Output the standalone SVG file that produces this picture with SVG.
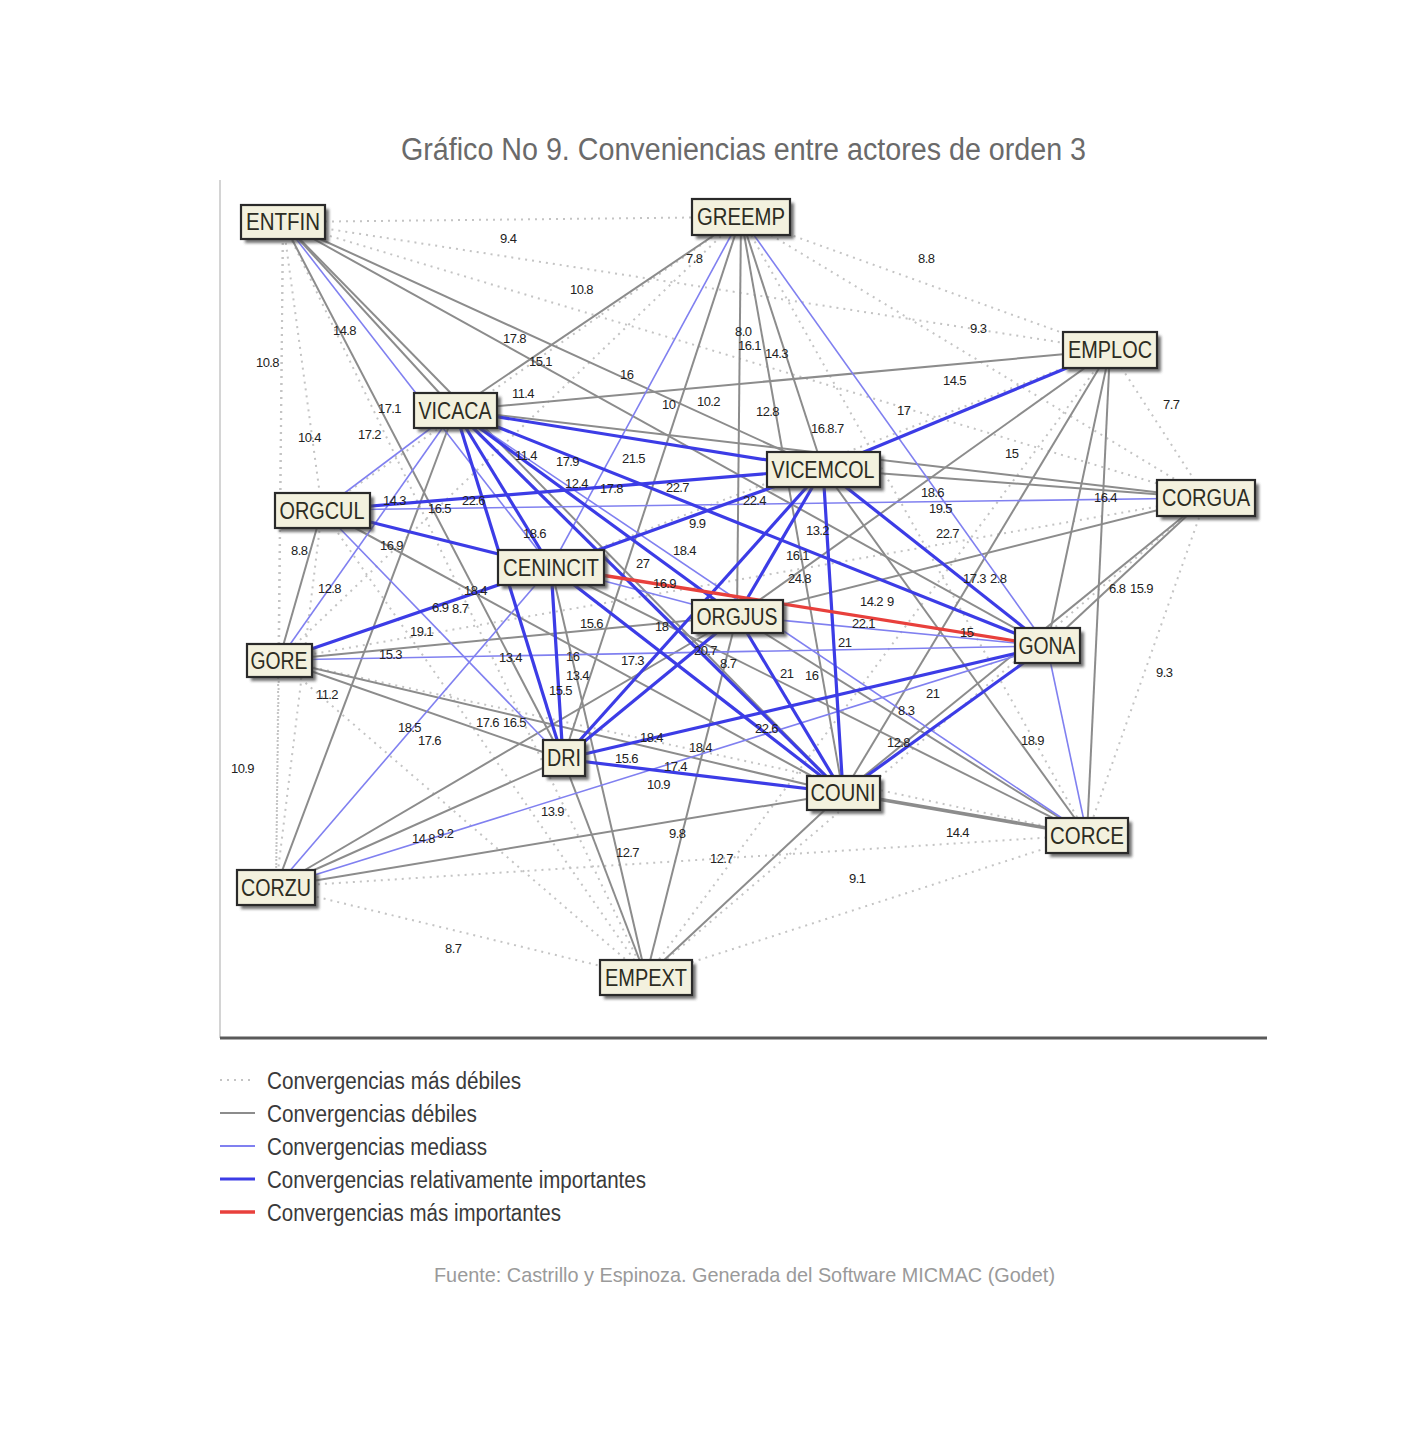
<svg xmlns="http://www.w3.org/2000/svg" width="1425" height="1442" viewBox="0 0 1425 1442">
<defs>
<filter id="sh" x="-20%" y="-20%" width="150%" height="160%"><feGaussianBlur stdDeviation="1.5"/></filter>
<style>
.d{stroke:#c4c4c4;stroke-width:2;stroke-dasharray:2 5;fill:none}
.g{stroke:#8c8c8c;stroke-width:2;fill:none}
.m{stroke:#8080f0;stroke-width:1.6;fill:none}
.b{stroke:#3c3ce6;stroke-width:3.2;fill:none}
.r{stroke:#e8403c;stroke-width:3.4;fill:none}
.lb{font-family:"Liberation Sans",Arial,sans-serif;font-size:13px;fill:#222;letter-spacing:-0.6px}
.nb{fill:#f3f1de;stroke:#2a2a2a;stroke-width:2.2}
.ns{fill:#444;opacity:0.75}
.nt{font-family:"Liberation Sans",Arial,sans-serif;font-size:23px;fill:#2c2c22;text-anchor:middle}
.lg{font-family:"Liberation Sans",Arial,sans-serif;font-size:23px;fill:#3a3a3a}
</style>
</defs>
<rect width="1425" height="1442" fill="#ffffff"/>
<text x="401" y="160" font-family="Liberation Sans, Arial, sans-serif" font-size="31" fill="#6a6a6a" textLength="685" lengthAdjust="spacingAndGlyphs">Gráfico No 9. Conveniencias entre actores de orden 3</text>
<line x1="220" y1="180" x2="220" y2="1038" stroke="#d4d4d4" stroke-width="2"/>
<line x1="220" y1="1038" x2="1267" y2="1038" stroke="#5a5a5a" stroke-width="3"/>
<g id="connectors">
<g id="weakest">
<line class="d" x1="283" y1="222" x2="741" y2="217"/>
<line class="d" x1="283" y1="222" x2="1110" y2="350"/>
<line class="d" x1="283" y1="222" x2="1206" y2="498"/>
<line class="d" x1="283" y1="222" x2="322" y2="510"/>
<line class="d" x1="283" y1="222" x2="279" y2="660"/>
<line class="d" x1="283" y1="222" x2="276" y2="887"/>
<line class="d" x1="283" y1="222" x2="646" y2="977"/>
<line class="d" x1="741" y1="217" x2="1110" y2="350"/>
<line class="d" x1="741" y1="217" x2="1206" y2="498"/>
<line class="d" x1="741" y1="217" x2="322" y2="510"/>
<line class="d" x1="741" y1="217" x2="279" y2="660"/>
<line class="d" x1="741" y1="217" x2="1087" y2="835"/>
<line class="d" x1="1110" y1="350" x2="1206" y2="498"/>
<line class="d" x1="1110" y1="350" x2="551" y2="567"/>
<line class="d" x1="1110" y1="350" x2="646" y2="977"/>
<line class="d" x1="1206" y1="498" x2="1087" y2="835"/>
<line class="d" x1="1206" y1="498" x2="279" y2="660"/>
<line class="d" x1="1206" y1="498" x2="646" y2="977"/>
<line class="d" x1="1087" y1="835" x2="646" y2="977"/>
<line class="d" x1="276" y1="887" x2="646" y2="977"/>
<line class="d" x1="276" y1="887" x2="1087" y2="835"/>
<line class="d" x1="279" y1="660" x2="276" y2="887"/>
<line class="d" x1="322" y1="510" x2="276" y2="887"/>
<line class="d" x1="279" y1="660" x2="646" y2="977"/>
<line class="d" x1="322" y1="510" x2="646" y2="977"/>
<line class="d" x1="279" y1="660" x2="1087" y2="835"/>
</g>
<g id="weak">
<line class="g" x1="283" y1="222" x2="455" y2="410"/>
<line class="g" x1="283" y1="222" x2="823" y2="469"/>
<line class="g" x1="283" y1="222" x2="1047" y2="646"/>
<line class="g" x1="283" y1="222" x2="563" y2="759"/>
<line class="g" x1="283" y1="222" x2="843" y2="793"/>
<line class="g" x1="741" y1="217" x2="455" y2="410"/>
<line class="g" x1="741" y1="217" x2="823" y2="469"/>
<line class="g" x1="741" y1="217" x2="737" y2="616"/>
<line class="g" x1="741" y1="217" x2="843" y2="793"/>
<line class="g" x1="741" y1="217" x2="563" y2="759"/>
<line class="g" x1="1110" y1="350" x2="455" y2="410"/>
<line class="g" x1="1110" y1="350" x2="737" y2="616"/>
<line class="g" x1="1110" y1="350" x2="843" y2="793"/>
<line class="g" x1="1110" y1="350" x2="1047" y2="646"/>
<line class="g" x1="1110" y1="350" x2="1087" y2="835"/>
<line class="g" x1="455" y1="410" x2="1206" y2="498"/>
<line class="g" x1="823" y1="469" x2="1206" y2="498"/>
<line class="g" x1="1206" y1="498" x2="1047" y2="646"/>
<line class="g" x1="1206" y1="498" x2="843" y2="793"/>
<line class="g" x1="1206" y1="498" x2="737" y2="616"/>
<line class="g" x1="322" y1="510" x2="279" y2="660"/>
<line class="g" x1="322" y1="510" x2="843" y2="793"/>
<line class="g" x1="279" y1="660" x2="843" y2="793"/>
<line class="g" x1="279" y1="660" x2="563" y2="759"/>
<line class="g" x1="279" y1="660" x2="737" y2="616"/>
<line class="g" x1="276" y1="887" x2="455" y2="410"/>
<line class="g" x1="276" y1="887" x2="563" y2="759"/>
<line class="g" x1="276" y1="887" x2="843" y2="793"/>
<line class="g" x1="276" y1="887" x2="737" y2="616"/>
<line class="g" x1="563" y1="759" x2="646" y2="977"/>
<line class="g" x1="843" y1="793" x2="646" y2="977"/>
<line class="g" x1="737" y1="616" x2="646" y2="977"/>
<line class="g" x1="551" y1="567" x2="646" y2="977"/>
<line class="g" x1="843" y1="793" x2="1087" y2="835" style="stroke-width:3.5"/>
<line class="g" x1="737" y1="616" x2="1087" y2="835"/>
<line class="g" x1="551" y1="567" x2="1087" y2="835"/>
<line class="g" x1="823" y1="469" x2="1087" y2="835"/>
</g>
<g id="medium">
<line class="m" x1="283" y1="222" x2="551" y2="567"/>
<line class="m" x1="741" y1="217" x2="551" y2="567"/>
<line class="m" x1="741" y1="217" x2="1047" y2="646"/>
<line class="m" x1="1206" y1="498" x2="322" y2="510"/>
<line class="m" x1="276" y1="887" x2="551" y2="567"/>
<line class="m" x1="276" y1="887" x2="1047" y2="646"/>
<line class="m" x1="1047" y1="646" x2="1087" y2="835"/>
<line class="m" x1="455" y1="410" x2="1087" y2="835"/>
<line class="m" x1="279" y1="660" x2="1047" y2="646"/>
<line class="m" x1="455" y1="410" x2="322" y2="510"/>
<line class="m" x1="455" y1="410" x2="279" y2="660"/>
<line class="m" x1="322" y1="510" x2="563" y2="759"/>
<line class="m" x1="737" y1="616" x2="1047" y2="646"/>
<line class="m" x1="551" y1="567" x2="737" y2="616"/>
</g>
<g id="strong">
<line class="b" x1="455" y1="410" x2="823" y2="469"/>
<line class="b" x1="455" y1="410" x2="1047" y2="646"/>
<line class="b" x1="455" y1="410" x2="551" y2="567"/>
<line class="b" x1="455" y1="410" x2="563" y2="759"/>
<line class="b" x1="455" y1="410" x2="843" y2="793"/>
<line class="b" x1="455" y1="410" x2="737" y2="616"/>
<line class="b" x1="551" y1="567" x2="823" y2="469"/>
<line class="b" x1="551" y1="567" x2="843" y2="793"/>
<line class="b" x1="551" y1="567" x2="563" y2="759"/>
<line class="b" x1="551" y1="567" x2="279" y2="660"/>
<line class="b" x1="551" y1="567" x2="322" y2="510"/>
<line class="b" x1="322" y1="510" x2="823" y2="469"/>
<line class="b" x1="1110" y1="350" x2="823" y2="469"/>
<line class="b" x1="563" y1="759" x2="823" y2="469"/>
<line class="b" x1="563" y1="759" x2="1047" y2="646"/>
<line class="b" x1="563" y1="759" x2="843" y2="793"/>
<line class="b" x1="563" y1="759" x2="737" y2="616"/>
<line class="b" x1="843" y1="793" x2="1047" y2="646"/>
<line class="b" x1="843" y1="793" x2="823" y2="469"/>
<line class="b" x1="823" y1="469" x2="1047" y2="646"/>
<line class="b" x1="737" y1="616" x2="823" y2="469"/>
<line class="b" x1="737" y1="616" x2="843" y2="793"/>
</g>
<g id="strongest">
<line class="r" x1="551" y1="567" x2="1047" y2="646"/>
</g>
</g>
<g id="edge-labels">
<text class="lb" x="500" y="243">9.4</text>
<text class="lb" x="686" y="263">7.8</text>
<text class="lb" x="918" y="263">8.8</text>
<text class="lb" x="570" y="294">10.8</text>
<text class="lb" x="333" y="335">14.8</text>
<text class="lb" x="970" y="333">9.3</text>
<text class="lb" x="503" y="343">17.8</text>
<text class="lb" x="735" y="336">8.0</text>
<text class="lb" x="529" y="366">15.1</text>
<text class="lb" x="738" y="350">16.1</text>
<text class="lb" x="765" y="358">14.3</text>
<text class="lb" x="256" y="367">10.8</text>
<text class="lb" x="512" y="398">11.4</text>
<text class="lb" x="620" y="379">16</text>
<text class="lb" x="943" y="385">14.5</text>
<text class="lb" x="1163" y="409">7.7</text>
<text class="lb" x="378" y="413">17.1</text>
<text class="lb" x="662" y="409">10</text>
<text class="lb" x="697" y="406">10.2</text>
<text class="lb" x="756" y="416">12.8</text>
<text class="lb" x="897" y="415">17</text>
<text class="lb" x="811" y="433">16.8.7</text>
<text class="lb" x="298" y="442">10.4</text>
<text class="lb" x="358" y="439">17.2</text>
<text class="lb" x="515" y="460">11.4</text>
<text class="lb" x="556" y="466">17.9</text>
<text class="lb" x="622" y="463">21.5</text>
<text class="lb" x="1005" y="458">15</text>
<text class="lb" x="565" y="488">12.4</text>
<text class="lb" x="600" y="493">17.8</text>
<text class="lb" x="666" y="492">22.7</text>
<text class="lb" x="383" y="505">14.3</text>
<text class="lb" x="428" y="513">16.5</text>
<text class="lb" x="462" y="505">22.6</text>
<text class="lb" x="1094" y="502">16.4</text>
<text class="lb" x="921" y="497">18.6</text>
<text class="lb" x="929" y="513">19.5</text>
<text class="lb" x="743" y="505">22.4</text>
<text class="lb" x="689" y="528">9.9</text>
<text class="lb" x="806" y="535">13.2</text>
<text class="lb" x="936" y="538">22.7</text>
<text class="lb" x="523" y="538">18.6</text>
<text class="lb" x="380" y="550">16.9</text>
<text class="lb" x="291" y="555">8.8</text>
<text class="lb" x="673" y="555">18.4</text>
<text class="lb" x="786" y="560">16.1</text>
<text class="lb" x="636" y="568">27</text>
<text class="lb" x="963" y="583">17.3</text>
<text class="lb" x="990" y="583">2.8</text>
<text class="lb" x="788" y="583">24.8</text>
<text class="lb" x="318" y="593">12.8</text>
<text class="lb" x="464" y="595">18.4</text>
<text class="lb" x="653" y="588">16.9</text>
<text class="lb" x="432" y="612">6.9</text>
<text class="lb" x="452" y="613">8.7</text>
<text class="lb" x="1109" y="593">6.8</text>
<text class="lb" x="1130" y="593">15.9</text>
<text class="lb" x="860" y="606">14.2</text>
<text class="lb" x="887" y="606">9</text>
<text class="lb" x="410" y="636">19.1</text>
<text class="lb" x="580" y="628">15.6</text>
<text class="lb" x="655" y="631">18</text>
<text class="lb" x="852" y="628">22.1</text>
<text class="lb" x="838" y="647">21</text>
<text class="lb" x="960" y="637">15</text>
<text class="lb" x="379" y="659">15.3</text>
<text class="lb" x="499" y="662">13.4</text>
<text class="lb" x="621" y="665">17.3</text>
<text class="lb" x="694" y="655">20.7</text>
<text class="lb" x="720" y="668">8.7</text>
<text class="lb" x="1156" y="677">9.3</text>
<text class="lb" x="566" y="661">16</text>
<text class="lb" x="566" y="680">13.4</text>
<text class="lb" x="780" y="678">21</text>
<text class="lb" x="805" y="680">16</text>
<text class="lb" x="549" y="695">15.5</text>
<text class="lb" x="316" y="699">11.2</text>
<text class="lb" x="926" y="698">21</text>
<text class="lb" x="898" y="715">8.3</text>
<text class="lb" x="398" y="732">18.5</text>
<text class="lb" x="418" y="745">17.6</text>
<text class="lb" x="476" y="727">17.6</text>
<text class="lb" x="503" y="727">16.5</text>
<text class="lb" x="755" y="733">22.6</text>
<text class="lb" x="887" y="747">12.8</text>
<text class="lb" x="1021" y="745">18.9</text>
<text class="lb" x="231" y="773">10.9</text>
<text class="lb" x="640" y="742">18.4</text>
<text class="lb" x="615" y="763">15.6</text>
<text class="lb" x="689" y="752">18.4</text>
<text class="lb" x="664" y="771">17.4</text>
<text class="lb" x="647" y="789">10.9</text>
<text class="lb" x="541" y="816">13.9</text>
<text class="lb" x="412" y="843">14.8</text>
<text class="lb" x="437" y="838">9.2</text>
<text class="lb" x="946" y="837">14.4</text>
<text class="lb" x="669" y="838">9.8</text>
<text class="lb" x="616" y="857">12.7</text>
<text class="lb" x="710" y="863">12.7</text>
<text class="lb" x="849" y="883">9.1</text>
<text class="lb" x="445" y="953">8.7</text>
</g>
<g id="node-ENTFIN"><rect class="ns" x="245" y="209" width="84" height="34" filter="url(#sh)"/><rect class="nb" x="241" y="205" width="84" height="34"/><text class="nt" x="283" y="230" textLength="74" lengthAdjust="spacingAndGlyphs">ENTFIN</text></g>
<g id="node-GREEMP"><rect class="ns" x="696" y="203" width="98" height="36" filter="url(#sh)"/><rect class="nb" x="692" y="199" width="98" height="36"/><text class="nt" x="741" y="225" textLength="88" lengthAdjust="spacingAndGlyphs">GREEMP</text></g>
<g id="node-EMPLOC"><rect class="ns" x="1067" y="336" width="94" height="36" filter="url(#sh)"/><rect class="nb" x="1063" y="332" width="94" height="36"/><text class="nt" x="1110" y="358" textLength="84" lengthAdjust="spacingAndGlyphs">EMPLOC</text></g>
<g id="node-VICACA"><rect class="ns" x="418" y="397" width="83" height="35" filter="url(#sh)"/><rect class="nb" x="414" y="393" width="83" height="35"/><text class="nt" x="455" y="419" textLength="73" lengthAdjust="spacingAndGlyphs">VICACA</text></g>
<g id="node-VICEMCOL"><rect class="ns" x="771" y="456" width="113" height="35" filter="url(#sh)"/><rect class="nb" x="767" y="452" width="113" height="35"/><text class="nt" x="823" y="478" textLength="103" lengthAdjust="spacingAndGlyphs">VICEMCOL</text></g>
<g id="node-CORGUA"><rect class="ns" x="1161" y="484" width="98" height="36" filter="url(#sh)"/><rect class="nb" x="1157" y="480" width="98" height="36"/><text class="nt" x="1206" y="506" textLength="88" lengthAdjust="spacingAndGlyphs">CORGUA</text></g>
<g id="node-ORGCUL"><rect class="ns" x="279" y="497" width="95" height="35" filter="url(#sh)"/><rect class="nb" x="275" y="493" width="95" height="35"/><text class="nt" x="322" y="519" textLength="85" lengthAdjust="spacingAndGlyphs">ORGCUL</text></g>
<g id="node-CENINCIT"><rect class="ns" x="502" y="554" width="106" height="35" filter="url(#sh)"/><rect class="nb" x="498" y="550" width="106" height="35"/><text class="nt" x="551" y="576" textLength="96" lengthAdjust="spacingAndGlyphs">CENINCIT</text></g>
<g id="node-ORGJUS"><rect class="ns" x="696" y="604" width="91" height="33" filter="url(#sh)"/><rect class="nb" x="692" y="600" width="91" height="33"/><text class="nt" x="737" y="625" textLength="81" lengthAdjust="spacingAndGlyphs">ORGJUS</text></g>
<g id="node-GONA"><rect class="ns" x="1019" y="632" width="65" height="35" filter="url(#sh)"/><rect class="nb" x="1015" y="628" width="65" height="35"/><text class="nt" x="1047" y="654" textLength="57" lengthAdjust="spacingAndGlyphs">GONA</text></g>
<g id="node-GORE"><rect class="ns" x="251" y="648" width="65" height="33" filter="url(#sh)"/><rect class="nb" x="247" y="644" width="65" height="33"/><text class="nt" x="279" y="669" textLength="57" lengthAdjust="spacingAndGlyphs">GORE</text></g>
<g id="node-DRI"><rect class="ns" x="547" y="744" width="42" height="36" filter="url(#sh)"/><rect class="nb" x="543" y="740" width="42" height="36"/><text class="nt" x="564" y="766" textLength="34" lengthAdjust="spacingAndGlyphs">DRI</text></g>
<g id="node-COUNI"><rect class="ns" x="811" y="780" width="73" height="34" filter="url(#sh)"/><rect class="nb" x="807" y="776" width="73" height="34"/><text class="nt" x="843" y="801" textLength="65" lengthAdjust="spacingAndGlyphs">COUNI</text></g>
<g id="node-CORCE"><rect class="ns" x="1050" y="822" width="82" height="35" filter="url(#sh)"/><rect class="nb" x="1046" y="818" width="82" height="35"/><text class="nt" x="1087" y="844" textLength="74" lengthAdjust="spacingAndGlyphs">CORCE</text></g>
<g id="node-CORZU"><rect class="ns" x="241" y="874" width="78" height="35" filter="url(#sh)"/><rect class="nb" x="237" y="870" width="78" height="35"/><text class="nt" x="276" y="896" textLength="70" lengthAdjust="spacingAndGlyphs">CORZU</text></g>
<g id="node-EMPEXT"><rect class="ns" x="604" y="964" width="92" height="35" filter="url(#sh)"/><rect class="nb" x="600" y="960" width="92" height="35"/><text class="nt" x="646" y="986" textLength="82" lengthAdjust="spacingAndGlyphs">EMPEXT</text></g>
<g id="legend">
<line class="d" x1="220" y1="1080" x2="255" y2="1080"/>
<line class="g" x1="220" y1="1113" x2="255" y2="1113"/>
<line class="m" x1="220" y1="1146" x2="255" y2="1146" style="stroke-width:2"/>
<line class="b" x1="220" y1="1179" x2="255" y2="1179"/>
<line class="r" x1="220" y1="1212" x2="255" y2="1212"/>
<text class="lg" x="267" y="1089" textLength="254" lengthAdjust="spacingAndGlyphs">Convergencias más débiles</text>
<text class="lg" x="267" y="1122" textLength="210" lengthAdjust="spacingAndGlyphs">Convergencias débiles</text>
<text class="lg" x="267" y="1155" textLength="220" lengthAdjust="spacingAndGlyphs">Convergencias mediass</text>
<text class="lg" x="267" y="1188" textLength="379" lengthAdjust="spacingAndGlyphs">Convergencias relativamente importantes</text>
<text class="lg" x="267" y="1221" textLength="294" lengthAdjust="spacingAndGlyphs">Convergencias más importantes</text>
</g>
<text x="434" y="1282" font-family="Liberation Sans, Arial, sans-serif" font-size="21" fill="#9a9a9a" textLength="621" lengthAdjust="spacingAndGlyphs">Fuente: Castrillo y Espinoza. Generada del Software MICMAC (Godet)</text>
</svg>
